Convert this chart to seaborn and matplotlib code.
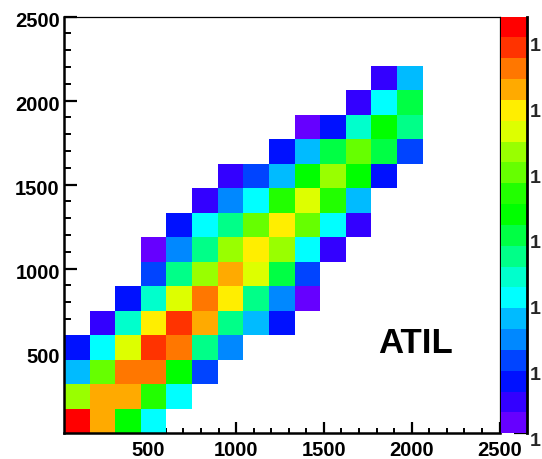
import numpy as np
import pandas as pd
import matplotlib
matplotlib.use("Agg")
import matplotlib.pyplot as plt
import seaborn as sns
from matplotlib.colors import ListedColormap, LogNorm
from matplotlib.ticker import MultipleLocator, NullFormatter
from matplotlib.transforms import ScaledTranslation

# ---------------- data ----------------
axis_lo = 20
axis_hi = 2500
n_bins = 17

# bin contents, row 0 = lowest y bin, column 0 = lowest x bin (0 = empty)
counts = [
    [1450000, 160000, 2100, 110, 0, 0, 0, 0, 0, 0, 0, 0, 0, 0],
    [18000, 160000, 160000, 4300, 110, 0, 0, 0, 0, 0, 0, 0, 0, 0],
    [55, 8900, 340000, 340000, 2100, 13, 0, 0, 0, 0, 0, 0, 0, 0],
    [6, 110, 38000, 700000, 340000, 480, 26, 0, 0, 0, 0, 0, 0, 0],
    [0, 3, 230, 79000, 700000, 160000, 480, 55, 6, 0, 0, 0, 0, 0],
    [0, 0, 6, 230, 38000, 340000, 79000, 480, 26, 1.4, 0, 0, 0, 0],
    [0, 0, 0, 13, 480, 18000, 160000, 38000, 1000, 13, 0, 0, 0, 0],
    [0, 0, 0, 1.4, 26, 480, 18000, 79000, 18000, 110, 3, 0, 0, 0],
    [0, 0, 0, 0, 6, 110, 480, 8900, 79000, 8900, 110, 3, 0, 0],
    [0, 0, 0, 0, 0, 3, 26, 110, 4300, 38000, 4300, 55, 0, 0],
    [0, 0, 0, 0, 0, 0, 3, 13, 55, 2100, 18000, 2100, 6, 0],
    [0, 0, 0, 0, 0, 0, 0, 0, 6, 55, 1000, 8900, 1000, 13],
    [0, 0, 0, 0, 0, 0, 0, 0, 0, 1.4, 6, 230, 2100, 480],
    [0, 0, 0, 0, 0, 0, 0, 0, 0, 0, 0, 3, 110, 1000],
    [0, 0, 0, 0, 0, 0, 0, 0, 0, 0, 0, 0, 3, 55],
]

z_min = 1.0
z_max = 10 ** 6.32
z_decades = [1, 10, 100, 1000, 10000, 100000, 1000000]
z_labels = ["1", "1", "1", "1", "1", "1", "1"]

x_major = 500
x_minor = 100

palette = [
    "#6600ff", "#3300ff", "#0011ff", "#0044ff", "#0088ff",
    "#00bbff", "#00ffff", "#00ffcc", "#00ff88", "#00ff44",
    "#00ff00", "#22ff00", "#66ff00", "#99ff00", "#ddff00",
    "#ffee00", "#ffaa00", "#ff7700", "#ff3300", "#ff0000",
]

label_text = "ATIL"

# ---------------- build long table ----------------
edges = np.linspace(axis_lo, axis_hi, n_bins + 1)
centers = (edges[:-1] + edges[1:]) / 2
records = []
for r, row in enumerate(counts):
    for c, v in enumerate(row):
        if v > 0:
            records.append((centers[c], centers[r], v))
df = pd.DataFrame(records, columns=["x", "y", "w"])

# ---------------- figure ----------------
sns.set_theme(style="white")
plt.rcParams["font.family"] = ["Liberation Sans", "DejaVu Sans"]
plt.rcParams["font.weight"] = "bold"

W, H = 542, 459
fig = plt.figure(figsize=(W / 100, H / 100), dpi=100)
fig.patch.set_facecolor("white")

L, R, T, B = 64, 499.5, 16.5, 433.3
ax = fig.add_axes([L / W, 1 - B / H, (R - L) / W, (B - T) / H])
cax = fig.add_axes([501 / W, 1 - B / H, 25.5 / W, (B - T) / H])

cmap = ListedColormap(palette)
sns.histplot(data=df, x="x", y="y", weights="w", bins=n_bins,
             binrange=((axis_lo, axis_hi), (axis_lo, axis_hi)),
             cmap=cmap, cbar=False, ax=ax)
mesh = ax.collections[0]
mesh.set_norm(LogNorm(vmin=z_min, vmax=z_max))
mesh.set_cmap(cmap)

ax.set_xlim(axis_lo, axis_hi)
ax.set_ylim(axis_lo, axis_hi)
ax.set_xlabel("")
ax.set_ylabel("")
ax.grid(False)
ax.set_facecolor("white")

ax.xaxis.set_major_locator(MultipleLocator(x_major))
ax.xaxis.set_minor_locator(MultipleLocator(x_minor))
ax.yaxis.set_major_locator(MultipleLocator(x_major))
ax.yaxis.set_minor_locator(MultipleLocator(x_minor))
ax.xaxis.set_minor_formatter(NullFormatter())
ax.yaxis.set_minor_formatter(NullFormatter())

ax.tick_params(axis="x", which="major", direction="in", length=8, width=1.6,
               labelsize=14.5, pad=5.5, color="black", labelcolor="black",
               bottom=True, top=False)
ax.tick_params(axis="x", which="minor", direction="in", length=3.8, width=1.4,
               color="black", bottom=True, top=False)
ax.tick_params(axis="y", which="major", direction="in", length=9, width=1.6,
               labelsize=14.5, pad=3, color="black", labelcolor="black",
               left=True, right=False)
ax.tick_params(axis="y", which="minor", direction="in", length=4.8, width=1.4,
               color="black", left=True, right=False)

for side in ["left", "bottom"]:
    ax.spines[side].set_linewidth(1.8)
    ax.spines[side].set_color("black")
for side in ["top", "right"]:
    ax.spines[side].set_linewidth(0.9)
    ax.spines[side].set_color("black")
for sp in ax.spines.values():
    sp.set_visible(True)

for lab in ax.get_xticklabels() + ax.get_yticklabels():
    lab.set_fontweight("bold")
shift = ScaledTranslation(0, -3 / 100, fig.dpi_scale_trans)
for lab in ax.get_yticklabels():
    lab.set_transform(lab.get_transform() + shift)

# ---------------- colour bar ----------------
cb = fig.colorbar(mesh, cax=cax)
cb.outline.set_visible(False)
cb.set_ticks(z_decades, labels=z_labels)
cb.minorticks_on()
cax.tick_params(axis="y", which="major", direction="in", length=9.5, width=1.6,
                labelsize=14, pad=2.5, right=True, left=False, color="black")
cax.tick_params(axis="y", which="minor", direction="in", length=5, width=1.2,
                right=True, left=False, color="black")
for lab in cax.get_yticklabels():
    lab.set_verticalalignment("top")
    lab.set_fontweight("bold")
cax.spines["right"].set_visible(True)
cax.spines["right"].set_linewidth(2.0)
cax.spines["right"].set_color("black")

fig.text(378 / W, 1 - 353 / H, label_text, fontsize=25, fontweight="bold",
         ha="left", va="baseline", color="black")

fig.savefig("out.png", dpi=100)
